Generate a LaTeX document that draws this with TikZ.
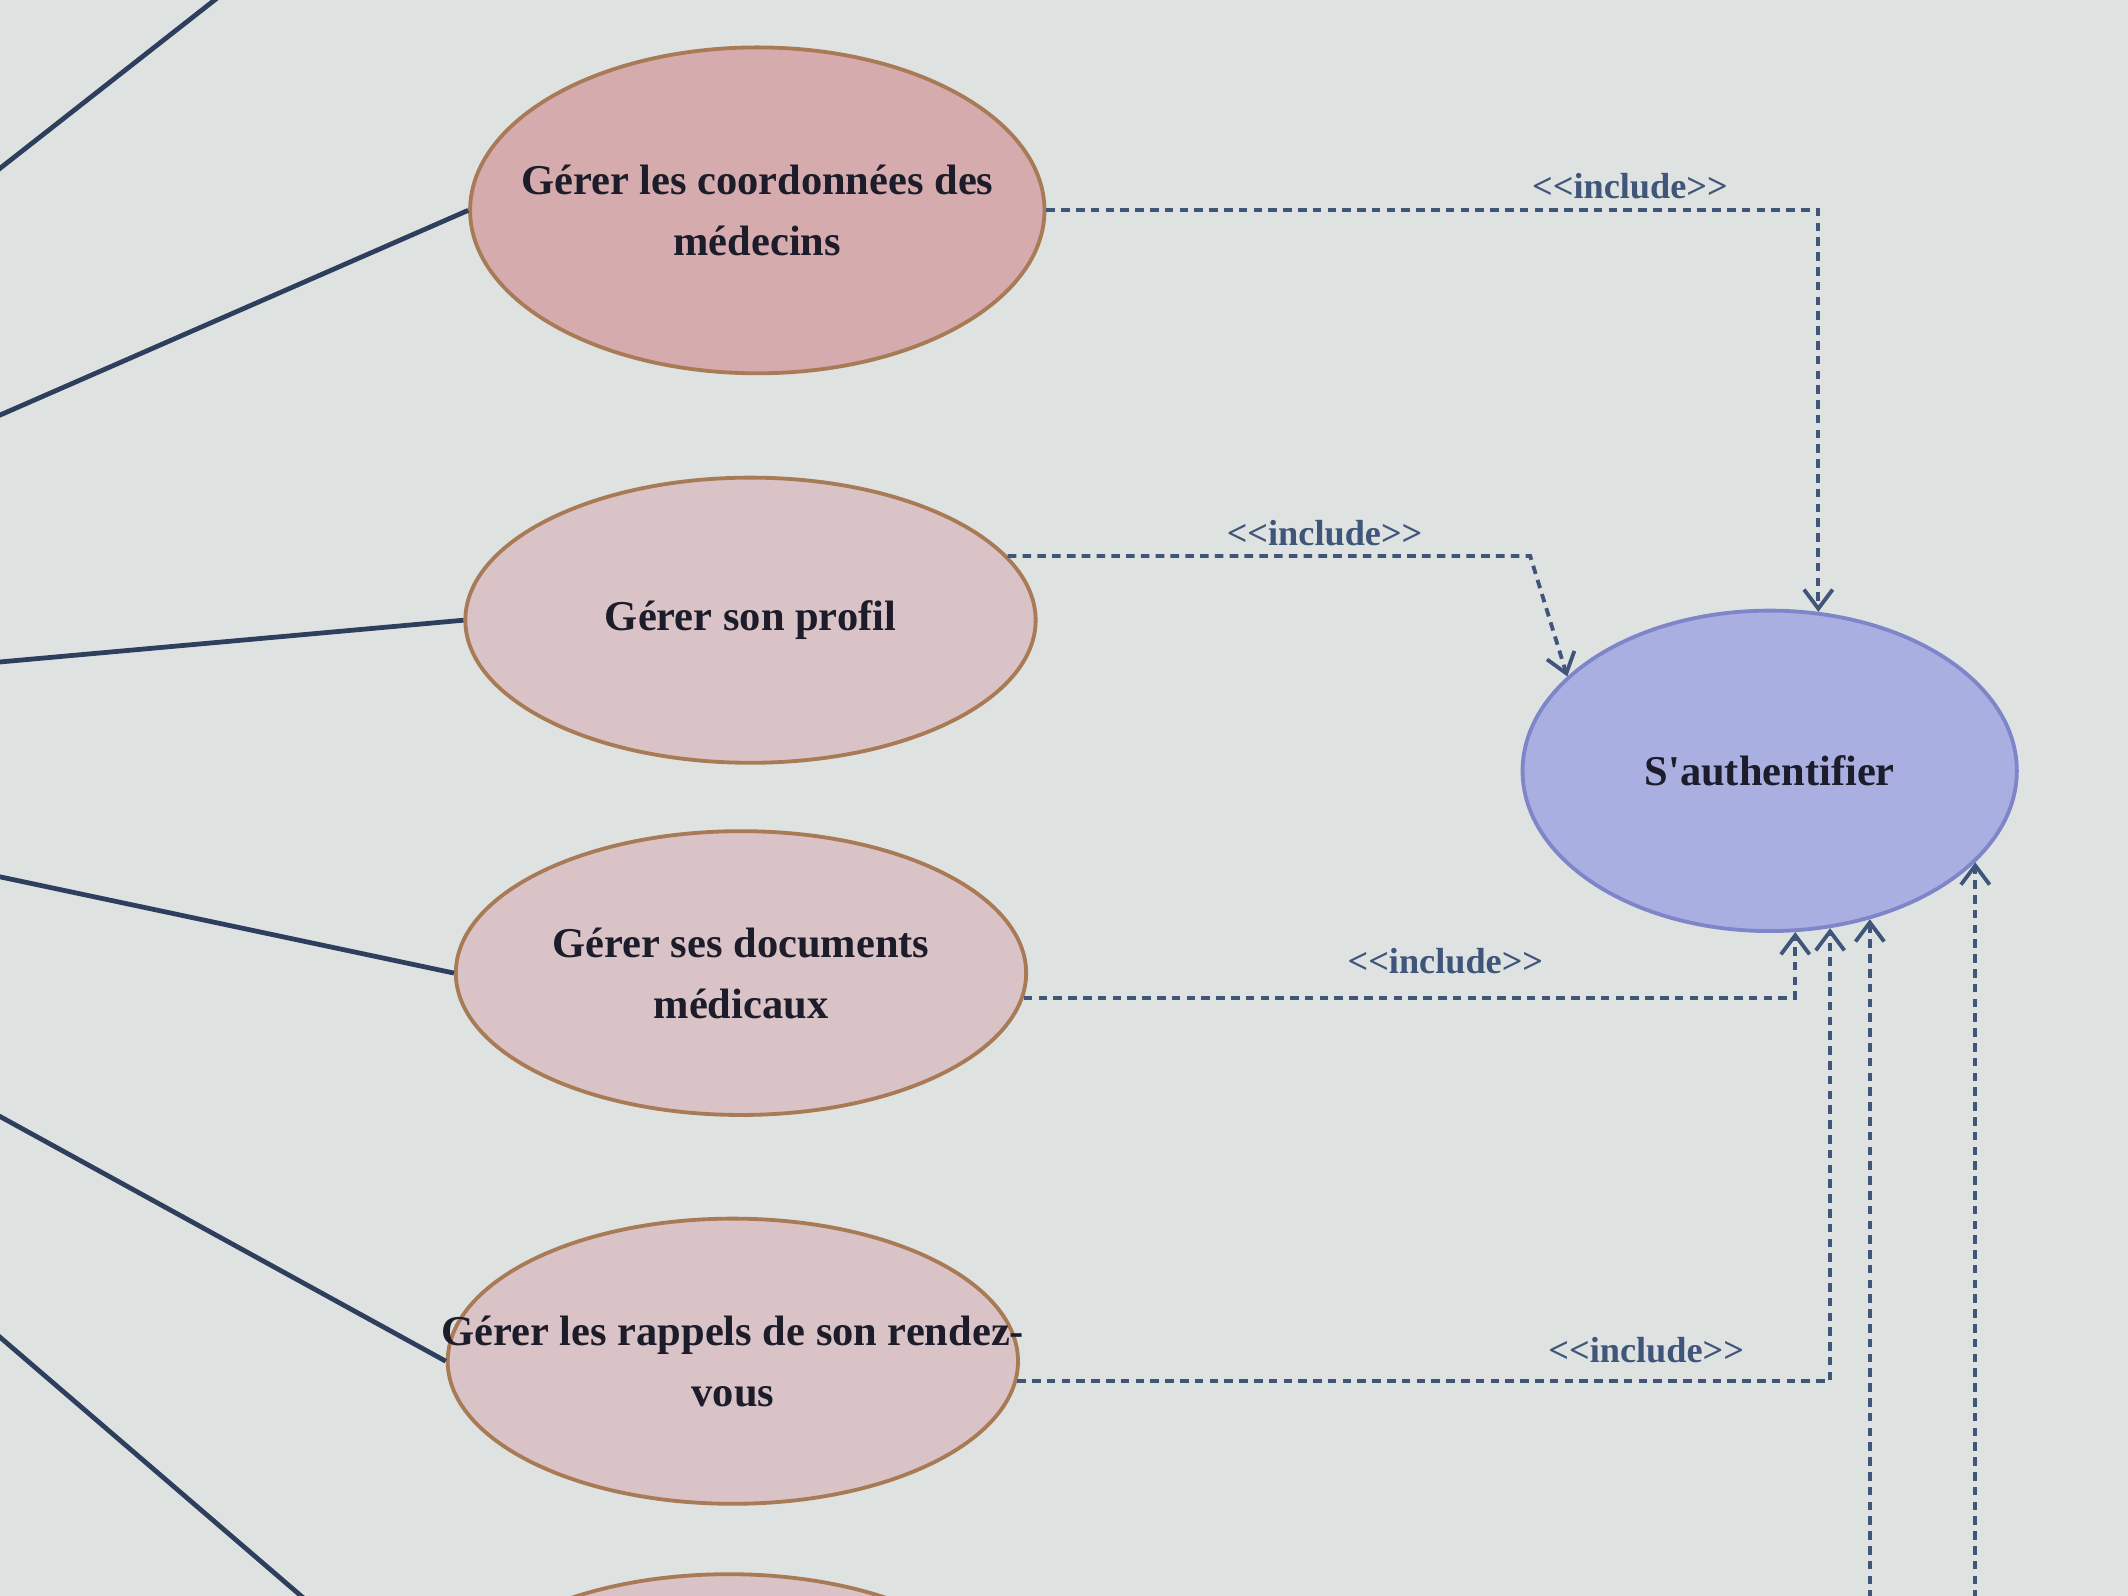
\documentclass[tikz,border=0pt]{standalone}
\usepackage{fontspec}
\setmainfont{Liberation Serif}
\usepackage{xcolor}
\usepackage{tikz}
\usetikzlibrary{shapes.geometric,arrows.meta}

\definecolor{fond}{HTML}{DEE3E2}
\definecolor{rose}{HTML}{D6ABAD}
\definecolor{rosepale}{HTML}{D9C3C6}
\definecolor{brun}{HTML}{A87A55}
\definecolor{mauve}{HTML}{A9AFE0}
\definecolor{mauvebord}{HTML}{7E86C9}
\definecolor{trait}{HTML}{2E3F5E}
\definecolor{incl}{HTML}{3F5579}
\definecolor{texte}{HTML}{1C1C2A}

\begin{document}
\begin{tikzpicture}[x=0.01cm,y=-0.01cm,
  cas/.style={ellipse,draw=brun,line width=0.8pt,fill=rosepale,minimum width=4.2cm,minimum height=2.1cm,
    align=center,inner xsep=-0.75cm,inner ysep=0pt,text=texte,font=\fontsize{8.9}{12.8}\selectfont\bfseries},
  assoc/.style={draw=trait,line width=1pt},
  include/.style={draw=incl,line width=0.8pt,dash pattern=on 1.8pt off 1.3pt,-{Straight Barb[length=4pt,width=6pt]}},
  stereo/.style={text=incl,font=\fontsize{7.6}{9}\selectfont\bfseries}]

\useasboundingbox (0,0) rectangle (1568,1176);
\fill[fond] (0,0) rectangle (1568,1176);
\clip (0,0) rectangle (1568,1176);

\coordinate (acteur) at (-524,535);
\coordinate (haut) at (250,-72);
\coordinate (bord) at (0,1200);

\node[cas,fill=rose,minimum width=4.23cm,minimum height=2.4cm] (coord) at (558,155) {G\'erer les coordonn\'ees des\\m\'edecins};
\node[cas] (profil) at (553,457) {G\'erer son profil};
\node[cas,minimum height=2.09cm] (docs) at (546,717) {G\'erer ses documents\\m\'edicaux};
\node[cas] (rappels) at (540,1003) {G\'erer les rappels de son rendez-\\vous};
\node[cas] (bas) at (537,1265) {};

\node[ellipse,draw=mauvebord,fill=mauve,line width=0.8pt,minimum width=3.64cm,minimum height=2.36cm,
  inner xsep=-0.3cm,text=texte,font=\fontsize{8.9}{12.8}\selectfont\bfseries] (auth) at (1304,568) {S\textquotesingle authentifier};

\draw[assoc] (acteur) -- (haut);
\foreach \c in {coord,profil,docs,rappels,bas}
  \draw[assoc] (acteur) -- (\c.west);

\draw[include] (coord.east) -| (auth.73);
\draw[include] (profil.14) -- ++(385,0) -- (auth.155);
\draw[include] (docs.-5) -| (auth.-81);
\draw[include] (rappels.-4) -| (auth.-69);
\draw[include] (auth.-56 |- bord) -- (auth.-56);
\draw[include] (auth.-24 |- bord) -- (auth.-24);

\node[stereo] (inc1) at (1201,137) {<{}<include>{}>};
\node[stereo] (inc2) at (976,393) {<{}<include>{}>};
\node[stereo] (inc3) at (1065,708) {<{}<include>{}>};
\node[stereo] (inc4) at (1213,995) {<{}<include>{}>};

\end{tikzpicture}
\end{document}
